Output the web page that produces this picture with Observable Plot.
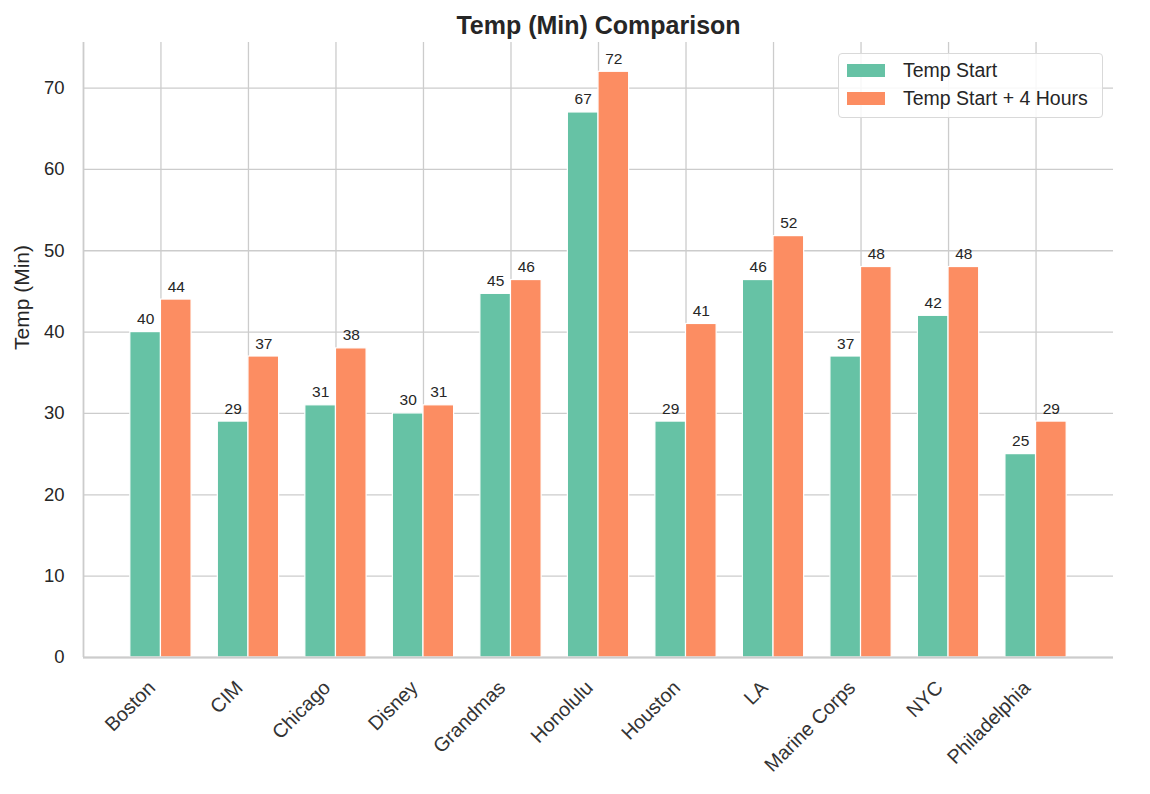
<!DOCTYPE html>
<html><head><meta charset="utf-8">
<script src="https://cdn.jsdelivr.net/npm/d3@7"></script>
<script src="https://cdn.jsdelivr.net/npm/@observablehq/plot@0.6"></script>
<style>
body{margin:0;background:#fff;font-family:"Liberation Sans",Arial,sans-serif;}
#wrap{position:relative;width:1150px;height:794px;}
.legend{position:absolute;left:838px;top:53px;width:265px;height:65px;border:1px solid #d9d9d9;border-radius:4px;background:rgba(255,255,255,0.85);box-sizing:border-box;}
.item{position:absolute;left:8px;height:22px;display:flex;align-items:center;font-size:19.5px;color:#262626;white-space:nowrap;}
.sw{width:38px;height:13px;margin-right:18px;}
</style></head><body><div id="wrap"></div>
<script>
const cities = ["Boston","CIM","Chicago","Disney","Grandmas","Honolulu","Houston","LA","Marine Corps","NYC","Philadelphia"];
const tempStart = [40, 29, 31, 30, 44.7, 67, 29, 46.4, 37, 42, 25];
const tempPlus4 = [44, 37, 38, 31, 46.4, 72, 41, 51.8, 48, 48, 29];
const seriesNames = ["Temp Start", "Temp Start + 4 Hours"];
const colors = ["#66c2a5", "#fc8d62"];
const yTicks = [0, 10, 20, 30, 40, 50, 60, 70];
const yLabel = "Temp (Min)";
const title = "Temp (Min) Comparison";

const barWidth = 0.35;
const xlim = [-0.885, cities.length - 1 + 0.885];
const rows = cities.flatMap((c, i) => [
  {i, city: c, series: seriesNames[0], value: tempStart[i], x1: i - barWidth, x2: i},
  {i, city: c, series: seriesNames[1], value: tempPlus4[i], x1: i, x2: i + barWidth}
]);
const ink = "#262626";
const gridColor = "#cccccc";
const font = "'Liberation Sans', Arial, sans-serif";

const chart = Plot.plot({
  width: 1150, height: 794,
  marginTop: 42, marginBottom: 137, marginLeft: 83, marginRight: 37,
  style: {fontFamily: font, background: "white", overflow: "visible"},
  x: {type: "linear", domain: xlim, axis: null},
  y: {domain: [0, 75.6], axis: null},
  color: {domain: seriesNames, range: colors},
  marks: [
    Plot.gridX(d3.range(cities.length), {stroke: gridColor, strokeOpacity: 1, strokeWidth: 1.3}),
    Plot.gridY(yTicks, {stroke: gridColor, strokeOpacity: 1, strokeWidth: 1.3}),
    Plot.rectY(rows, {x1: "x1", x2: "x2", y1: 0, y2: "value", fill: "series", stroke: "white", strokeWidth: 1.2}),
    Plot.ruleX([xlim[0]], {stroke: gridColor, strokeWidth: 1.8}),
    Plot.ruleY([0], {stroke: gridColor, strokeWidth: 1.8}),
    Plot.text(rows, {x: d => (d.x1 + d.x2) / 2, y: "value", text: d => d3.format(".0f")(d.value),
      lineAnchor: "bottom", dy: -8, fontSize: 15.5, fill: ink}),
    Plot.axisY(yTicks, {tickSize: 0, tickPadding: 19, fontSize: 18.5, label: null, fill: ink}),
    Plot.text(cities, {x: (d, i) => i, frameAnchor: "bottom", rotate: -45, textAnchor: "end",
      lineAnchor: "middle", dx: -9, dy: 27, fontSize: 19.8, fill: "#333333"}),
    Plot.text([yLabel], {frameAnchor: "left", dx: -61, rotate: -90, fontSize: 21, fill: ink}),
    Plot.text([title], {frameAnchor: "top", dy: -9, lineAnchor: "bottom", fontSize: 25, fontWeight: "bold", fill: ink})
  ]
});
const wrap = document.getElementById("wrap");
wrap.appendChild(chart);
const leg = document.createElement("div");
leg.className = "legend";
seriesNames.forEach((n, k) => {
  const it = document.createElement("div");
  it.className = "item";
  it.style.top = (5 + k * 28.5) + "px";
  const sw = document.createElement("span");
  sw.className = "sw";
  sw.style.background = colors[k];
  const t = document.createElement("span");
  t.textContent = n;
  it.appendChild(sw); it.appendChild(t);
  leg.appendChild(it);
});
wrap.appendChild(leg);
</script></body></html>
